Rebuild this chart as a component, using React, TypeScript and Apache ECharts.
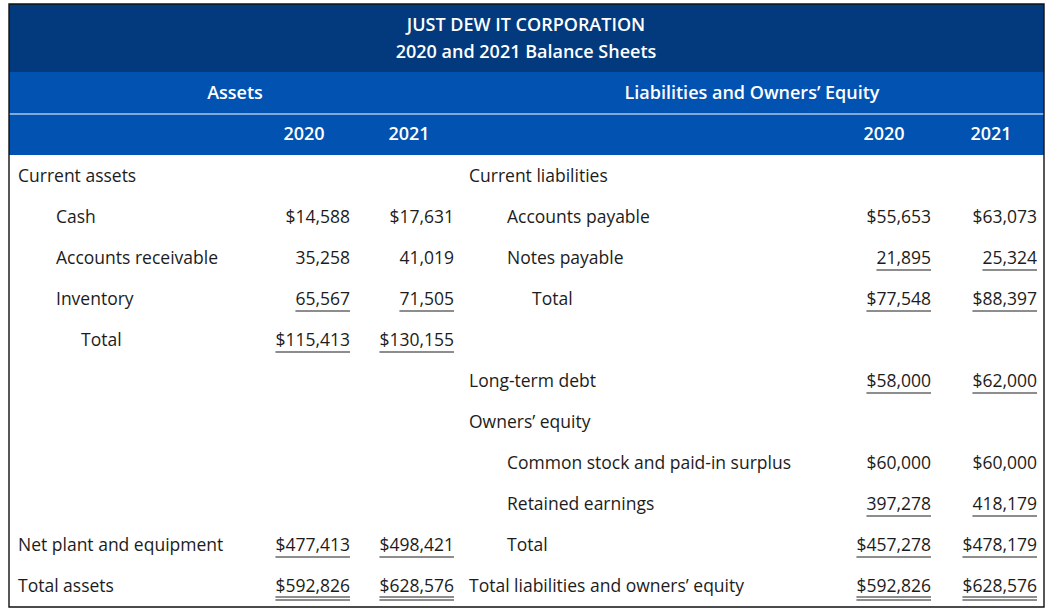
import React, { useEffect, useRef } from "react";
import * as echarts from "echarts";

const titleLines = ["JUST DEW IT CORPORATION", "2020 and 2021 Balance Sheets"];
const sectionHeaders = ["Assets", "Liabilities and Owners’ Equity"];
const years = ["2020", "2021"];

// Assets side
const assetLabels = ["Current assets", "Cash", "Accounts receivable", "Inventory", "Total", "Net plant and equipment", "Total assets"];
const assetRows = [0, 1, 2, 3, 4, 9, 10];
const assetIndent = [0, 1, 1, 1, 2, 0, 0];
const assets2020: (number | null)[] = [null, 14588, 35258, 65567, 115413, 477413, 592826];
const assets2021: (number | null)[] = [null, 17631, 41019, 71505, 130155, 498421, 628576];
const assetDollar = [false, true, false, false, true, true, true];
const assetRule = [0, 0, 0, 1, 1, 1, 2];

// Liabilities side
const liabLabels = ["Current liabilities", "Accounts payable", "Notes payable", "Total", "Long-term debt", "Owners’ equity", "Common stock and paid-in surplus", "Retained earnings", "Total", "Total liabilities and owners’ equity"];
const liabRows = [0, 1, 2, 3, 5, 6, 7, 8, 9, 10];
const liabIndent = [0, 1, 1, 2, 0, 0, 1, 1, 1, 0];
const liab2020: (number | null)[] = [null, 55653, 21895, 77548, 58000, null, 60000, 397278, 457278, 592826];
const liab2021: (number | null)[] = [null, 63073, 25324, 88397, 62000, null, 60000, 418179, 478179, 628576];
const liabDollar = [false, true, false, true, true, false, true, false, true, true];
const liabRule = [0, 0, 1, 1, 1, 0, 0, 1, 1, 2];

const FONT = "'Open Sans'";
const FS = 17.5;
const HFS = 18;
const TEXT = "#1c1c1c";
const NAVY = "#023a7d";
const BLUE = "#0152b1";

function fmt(v: number, dollar: boolean) {
  return (dollar ? "$" : "") + v.toLocaleString("en-US");
}

export default function App() {
  const ref = useRef<HTMLDivElement>(null);
  useEffect(() => {
    if (!ref.current) return;
    const chart = echarts.init(ref.current, null, { renderer: "svg" });
    const ctx = document.createElement("canvas").getContext("2d")!;
    ctx.font = `${FS}px ${FONT}`;
    const measure = (s: string) => ctx.measureText(s).width;

    const L = 9, R = 1044, T = 4, B = 607;
    const rowY = (r: number) => 175 + r * 41;
    const els: any[] = [];

    els.push({ type: "rect", shape: { x: L, y: T, width: R - L, height: 68 }, style: { fill: NAVY } });
    els.push({ type: "rect", shape: { x: L, y: 72, width: R - L, height: 83 }, style: { fill: BLUE } });
    els.push({ type: "line", shape: { x1: L, y1: 114, x2: R, y2: 114 }, style: { stroke: "#ffffff", lineWidth: 1.2 } });
    els.push({ type: "rect", shape: { x: L, y: T, width: R - L, height: B - T }, style: { fill: "none", stroke: "#111", lineWidth: 1.4 } });

    const hdr = (text: string, x: number, y: number, align = "center") =>
      els.push({ type: "text", x, y, style: { text, fill: "#fff", font: `600 ${HFS}px ${FONT}`, align, verticalAlign: "middle" } });
    hdr(titleLines[0], 526, 24);
    hdr(titleLines[1], 526, 51);
    hdr(sectionHeaders[0], 235, 92);
    hdr(sectionHeaders[1], 752, 92);
    hdr(years[0], 304, 133);
    hdr(years[1], 409, 133);
    hdr(years[0], 884, 133);
    hdr(years[1], 991, 133);

    const label = (text: string, x: number, y: number) =>
      els.push({ type: "text", x, y, style: { text, fill: TEXT, font: `${FS}px ${FONT}`, align: "left", verticalAlign: "middle" } });
    const num = (text: string, xr: number, y: number, rule: number) => {
      els.push({ type: "text", x: xr, y, style: { text, fill: TEXT, font: `${FS}px ${FONT}`, align: "right", verticalAlign: "middle" } });
      const w = measure(text);
      if (rule === 1) {
        els.push({ type: "line", shape: { x1: xr - w, y1: y + 13, x2: xr, y2: y + 13 }, style: { stroke: TEXT, lineWidth: 1.2 } });
      } else if (rule === 2) {
        els.push({ type: "line", shape: { x1: xr - w, y1: y + 12, x2: xr, y2: y + 12 }, style: { stroke: TEXT, lineWidth: 1 } });
        els.push({ type: "line", shape: { x1: xr - w, y1: y + 15, x2: xr, y2: y + 15 }, style: { stroke: TEXT, lineWidth: 1 } });
      }
    };

    const leftX = [18, 56, 81];
    assetLabels.forEach((lab, i) => {
      const y = rowY(assetRows[i]);
      label(lab, leftX[assetIndent[i]], y);
      const a = assets2020[i], b = assets2021[i];
      if (a != null) num(fmt(a, assetDollar[i]), 350, y, assetRule[i]);
      if (b != null) num(fmt(b, assetDollar[i]), 454, y, assetRule[i]);
    });

    const rightX = [469, 507, 532];
    liabLabels.forEach((lab, i) => {
      const y = rowY(liabRows[i]);
      label(lab, rightX[liabIndent[i]], y);
      const a = liab2020[i], b = liab2021[i];
      if (a != null) num(fmt(a, liabDollar[i]), 931, y, liabRule[i]);
      if (b != null) num(fmt(b, liabDollar[i]), 1037, y, liabRule[i]);
    });

    chart.setOption({ animation: false, graphic: { elements: els } });
    return () => chart.dispose();
  }, []);
  return <div ref={ref} style={{ position: "fixed", left: 0, top: 0, width: 1058, height: 616, background: "#fff" }} />;
}
